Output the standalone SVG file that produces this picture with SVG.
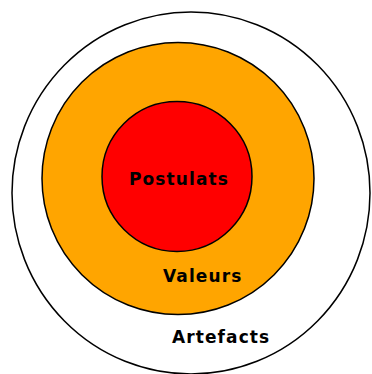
<svg xmlns="http://www.w3.org/2000/svg" width="372" height="374" viewBox="0 0 372 374">
<style>
.c{stroke:#000;stroke-width:1.5}
.t{font-family:"DejaVu Sans",sans-serif;font-weight:bold;font-size:17px;letter-spacing:1.1px;fill:#000}
</style>
<rect width="372" height="374" fill="#fff"/>
<g id="artefacts">
<ellipse cx="191" cy="193" rx="179" ry="181" fill="#fff" class="c" stroke-width="2.2"/>
<text class="t" x="172" y="343">Artefacts</text>
</g>
<g id="valeurs">
<circle cx="178" cy="178.5" r="136" fill="#ffa500" class="c"/>
<text class="t" x="163" y="282">Valeurs</text>
</g>
<g id="postulats">
<circle cx="177" cy="176.5" r="75" fill="#ff0000" class="c"/>
<text class="t" x="129" y="185">Postulats</text>
</g>
<g id="connectors"/>
</svg>
